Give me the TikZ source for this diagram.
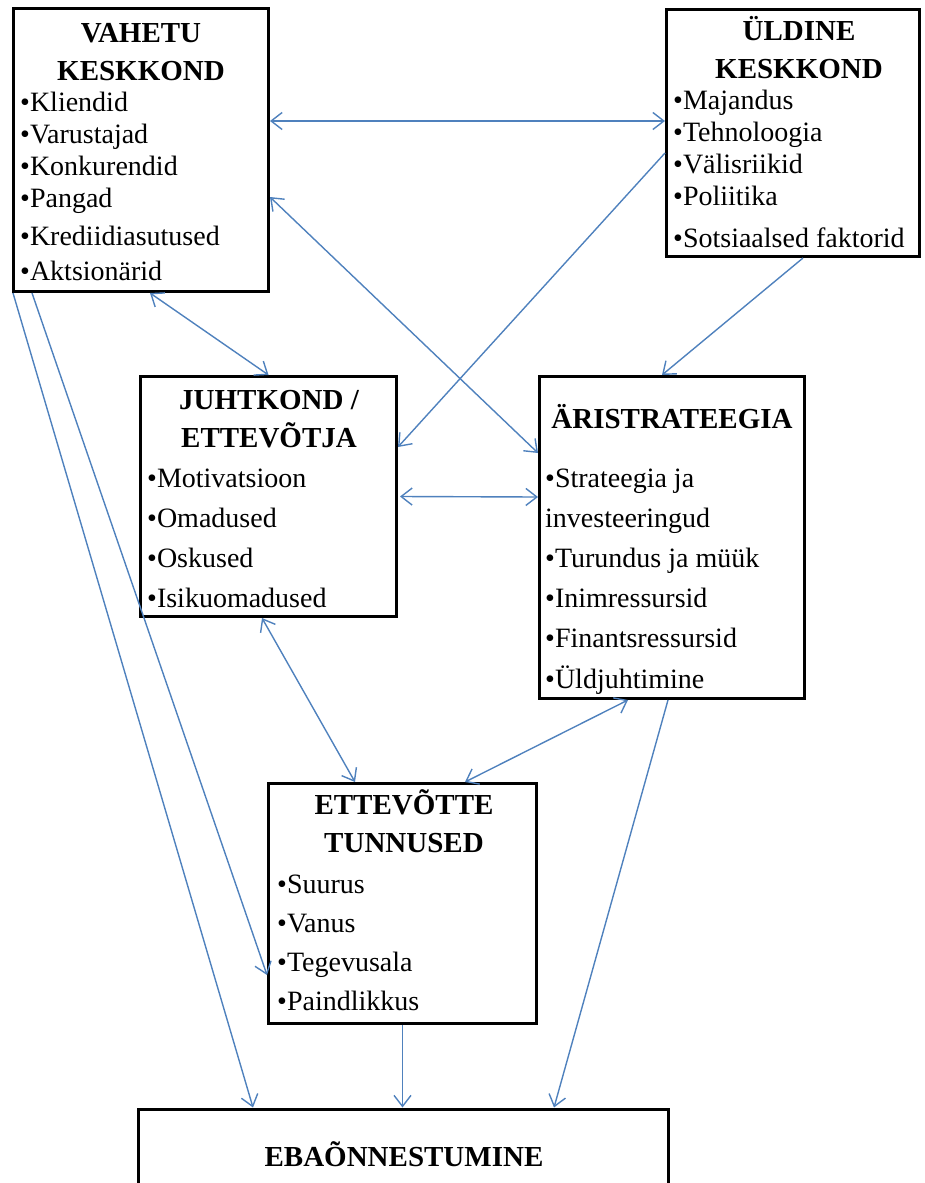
\documentclass[tikz,border=0pt]{standalone}
\usepackage{fontspec}
\setmainfont{Liberation Serif}
\usetikzlibrary{arrows.meta, positioning}

\definecolor{linkblue}{RGB}{79,129,189}

\tikzset{
  box/.style={draw=black, line width=3pt, inner sep=0pt},
  head/.style={font=\fontsize{29}{37.5}\selectfont\bfseries, align=center, anchor=base, inner sep=0pt},
  items/.style={font=\fontsize{28}{#1}\selectfont, align=left, anchor=base west, inner sep=0pt},
  link/.style={linkblue, line width=1.4pt},
}

\begin{document}
\begin{tikzpicture}[x=1pt, y=-1pt, >={Straight Barb[length=11pt, width=17pt, line width=1.4pt]}]
  \useasboundingbox (0,0) rectangle (925,1183);
  \clip (0,0) rectangle (925,1183);

  % boxes
  \node[box, minimum width=255, minimum height=283] (vahetu) at (141,150) {};
  \node[box, minimum width=253, minimum height=247] (yldine) at (793,133) {};
  \node[box, minimum width=256, minimum height=240] (juht) at (268.5,496.5) {};
  \node[box, minimum width=265, minimum height=322] (aris) at (672,537.5) {};
  \node[box, minimum width=268, minimum height=240] (tunnused) at (402.5,903.5) {};
  \node[box, minimum width=530, minimum height=96] (ebaon) at (403.5,1157) {};

  % texts (base = last line)
  \node[head] (vahetuT) at (141,80) {VAHETU\\KESKKOND};
  \node[items=32] (vahetuL) at (20,280) {•Kliendid\\•Varustajad\\•Konkurendid\\•Pangad\\[6pt]•Krediidiasutused\\[3pt]•Aktsionärid};

  \node[head] (yldineT) at (799,78) {ÜLDINE\\KESKKOND};
  \node[items=32] (yldineL) at (673,247) {•Majandus\\•Tehnoloogia\\•Välisriikid\\•Poliitika\\[10pt]•Sotsiaalsed faktorid};

  \node[head] (juhtT) at (269,447) {JUHTKOND /\\ETTEVÕTJA};
  \node[items=40] (juhtL) at (147,607) {•Motivatsioon\\•Omadused\\•Oskused\\•Isikuomadused};

  \node[head] (arisT) at (672,428) {ÄRISTRATEEGIA};
  \node[items=40.2] (arisL) at (545,688) {•Strateegia ja\\investeeringud\\•Turundus ja müük\\•Inimressursid\\•Finantsressursid\\•Üldjuhtimine};

  \node[head] (tunnusedT) at (404,852) {ETTEVÕTTE\\TUNNUSED};
  \node[items=39] (tunnusedL) at (277,1010) {•Suurus\\•Vanus\\•Tegevusala\\•Paindlikkus};

  \node[head] (ebaonT) at (404,1166) {EBAÕNNESTUMINE};

  % connectors
  \draw[link, <->] ([yshift=29pt]vahetu.east) -- ([yshift=12pt]yldine.west);
  \draw[link, <->] ([yshift=-47pt]vahetu.east) -- ([yshift=84.5pt]aris.west);
  \draw[link, ->] ([yshift=-20pt]yldine.west) -- ([yshift=49.5pt]juht.east);
  \draw[link, ->] ([xshift=10pt]yldine.south) -- ([xshift=-10pt]aris.north);
  \draw[link, <->] ([xshift=9pt]vahetu.south) -- (juht.north);
  \draw[link, <->] ([xshift=2pt]juht.east) -- ([yshift=40.5pt]aris.west);
  \draw[link, <->] ([xshift=-6.5pt]juht.south) -- ([xshift=-47.5pt]tunnused.north);
  \draw[link, <->] ([xshift=-44pt]aris.south) -- ([xshift=62.5pt]tunnused.north);
  \draw[link, ->] ([xshift=-4pt]aris.south) -- ([xshift=150.5pt]ebaon.north);
  \draw[link, ->] (tunnused.south) -- (tunnused.south |- ebaon.north);
  \draw[link, ->] ([xshift=1pt]vahetu.south west) -- ([xshift=116pt]ebaon.north west);
  \draw[link, ->] ([xshift=20pt]vahetu.south west) -- ([yshift=-71.5pt]tunnused.west);
\end{tikzpicture}
\end{document}
